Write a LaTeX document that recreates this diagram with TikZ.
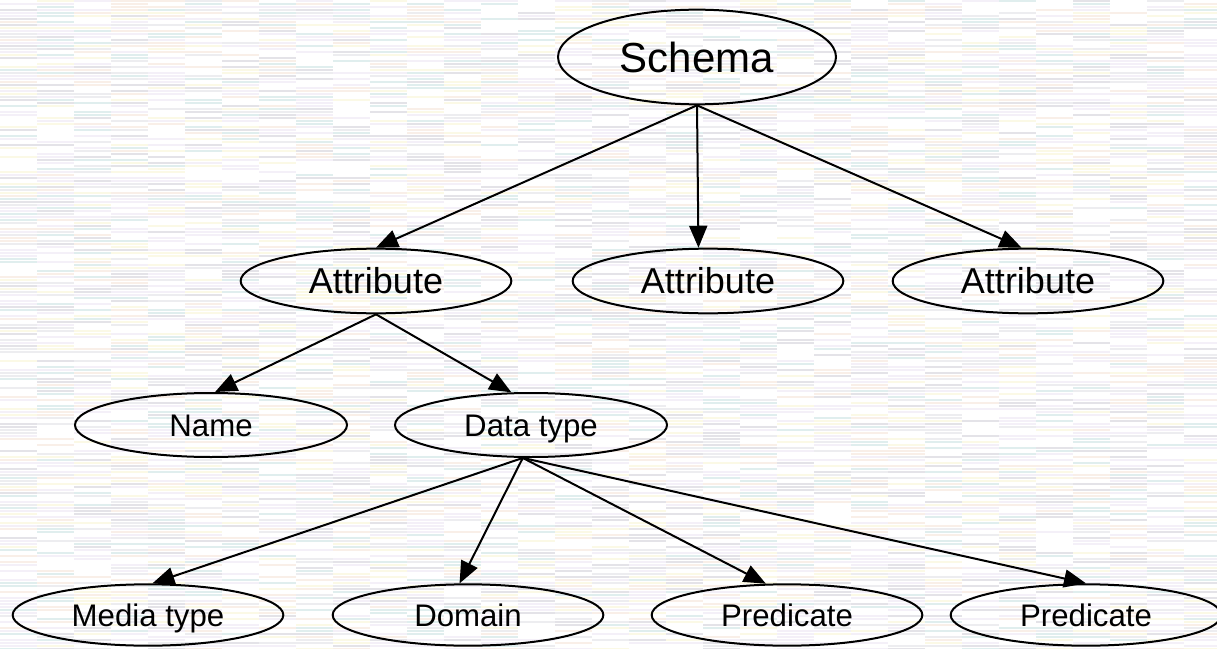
\documentclass[tikz,border=0pt]{standalone}
\usepackage{fontspec}
\setmainfont{Liberation Sans}
\usetikzlibrary{shapes.geometric,arrows.meta}
\definecolor{bgA}{HTML}{E4E3E8}
\definecolor{bgB}{HTML}{F4F0F8}
\definecolor{bgC}{HTML}{FBF9E6}
\definecolor{bgD}{HTML}{F9EFE8}
\definecolor{bgE}{HTML}{E0EEEE}
\definecolor{bgF}{HTML}{EDEDF0}
\begin{document}
\begin{tikzpicture}[x=0.75pt,y=-0.75pt,
  ell/.style={ellipse,draw=black,line width=1.5pt,inner sep=0pt,text=black,text depth=0pt},
  big/.style={ell,minimum width=208.5pt,minimum height=71pt,font=\fontsize{31.5}{36}\selectfont,text height=22.55pt},
  mid/.style={ell,minimum width=203pt,minimum height=48.5pt,font=\fontsize{27}{31}\selectfont,text height=19.33pt},
  small/.style={ell,minimum width=204pt,minimum height=48pt,font=\fontsize{23.4}{27}\selectfont,text height=16.75pt},
  low/.style={ell,minimum width=203pt,minimum height=46pt,font=\fontsize{23.4}{27}\selectfont,text height=16.75pt},
  arr/.style={line width=1.5pt,-{Triangle[length=16.5pt,width=13.5pt]}}]
\useasboundingbox (0,0) rectangle (1217,649);
\clip (0,0) rectangle (1217,649);
\fill[white] (0,0) rectangle (1217,649);
\pgfmathsetseed{42}
\foreach \c in {0,...,32}{\foreach \r in {0,...,216}{%
  \pgfmathrandominteger{\k}{0}{9}%
  \ifnum\k>2\relax
    \ifcase\k\relax\or\or\or\def\bc{bgA}\or\def\bc{bgB}\or\def\bc{bgB}\or\def\bc{bgF}\or\def\bc{bgC}\or\def\bc{bgD}\or\def\bc{bgE}\fi
    \fill[\bc] (\c*37,\r*3) rectangle (\c*37+37,\r*3+2);
  \fi
}}
\node[big] (schema) at (697,57) {Schema};
\node[mid] (a1) at (376,281) {Attribute};
\node[mid] (a2) at (708,281) {Attribute};
\node[mid] (a3) at (1028,281) {Attribute};
\node[small] (name) at (211,425) {Name};
\node[small] (dt) at (531,425) {Data type};
\node[low] (media) at (148,615) {Media type};
\node[low] (dom) at (468,615) {Domain};
\node[low] (p1) at (787,615) {Predicate};
\node[low] (p2) at (1086,615) {Predicate};
\draw[arr] (schema.south) -- (a1.north);
\draw[arr] (schema.south) -- (a2.106);
\draw[arr] (schema.south) -- (a3.101);
\draw[arr] (a1.south) -- (name.83);
\draw[arr] (a1.south) -- (dt.121);
\draw[arr] (dt.256) -- (media.82);
\draw[arr] (dt.256) -- (dom.105);
\draw[arr] (dt.256) -- (p1.124);
\draw[arr] (dt.256) -- (p2.north);
\end{tikzpicture}
\end{document}
